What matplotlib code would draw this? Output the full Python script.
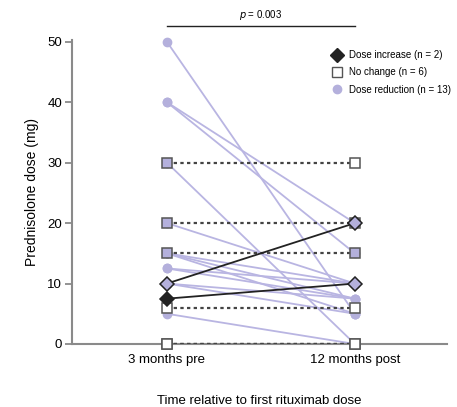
import matplotlib.pyplot as plt
from matplotlib.lines import Line2D

# time points
timepoints = ["3 months pre", "12 months post"]

# dose reduction patients (pre, post)
red_pre = [50, 40, 40, 30, 20, 15, 15, 15, 12.5, 12.5, 10, 10, 5]
red_post = [5, 20, 15, 0, 10, 7.5, 5, 10, 10, 7.5, 7.5, 5, 0]

# no change patients
same_pre = [30, 20, 15, 6, 0, 0]
same_post = [30, 20, 15, 6, 0, 0]

# dose increase patients
inc_pre = [10, 7.5]
inc_post = [20, 10]

purple = "#b4b0dc"
purple_line = "#b9b5e2"
dark = "#222222"
grey = "#8a8a8a"

plt.rcParams['font.family'] = ['Liberation Sans', 'DejaVu Sans']

fig = plt.figure(figsize=(4.57, 4.07), dpi=100)
ax = fig.add_axes([0.1575, 0.1548, 0.8206, 0.747])

red_pts = set(zip([0] * len(red_pre), red_pre)) | set(zip([1] * len(red_post), red_post))

def face(x, y, default):
    if y > 0 and (x, y) in red_pts:
        return purple
    return default

# lines
for a, b in zip(red_pre, red_post):
    ax.plot([0, 1], [a, b], color=purple_line, lw=1.3, zorder=2)
for a, b in zip(same_pre, same_post):
    ax.plot([0, 1], [a, b], color="#444444", lw=1.6, ls=(0, (1.5, 1.5)), zorder=3)
for a, b in zip(inc_pre, inc_post):
    ax.plot([0, 1], [a, b], color=dark, lw=1.3, zorder=4)

# markers
for a, b in zip(red_pre, red_post):
    ax.plot([0, 1], [a, b], ls="none", marker="o", ms=6, mfc=purple, mec=purple, zorder=5, clip_on=False)
for a, b in zip(same_pre, same_post):
    for x, y in ((0, a), (1, b)):
        ax.plot(x, y, ls="none", marker="s", ms=7, mfc=face(x, y, "white"), mec="#555555", mew=1.1,
                zorder=6, clip_on=False)
for a, b in zip(inc_pre, inc_post):
    for x, y in ((0, a), (1, b)):
        ax.plot(x, y, ls="none", marker="D", ms=7, mfc=face(x, y, dark), mec=dark, mew=1.1,
                zorder=7, clip_on=False)

ax.set_xlim(-0.505, 1.49)
ax.set_ylim(0, 50.3)
ax.set_yticks([0, 10, 20, 30, 40, 50])
ax.set_xticks([0, 1])
ax.set_xticklabels(timepoints, fontsize=9.5)
ax.tick_params(axis='x', length=0, pad=7)
ax.tick_params(axis='y', length=5, width=1.3, color=grey, labelsize=9.5, pad=2)
for s in ["top", "right"]:
    ax.spines[s].set_visible(False)
for s in ["left", "bottom"]:
    ax.spines[s].set_color(grey)
    ax.spines[s].set_linewidth(1.5)

ax.set_ylabel("Prednisolone dose (mg)", fontsize=10, labelpad=6)
ax.set_xlabel("Time relative to first rituximab dose", fontsize=9.5, labelpad=21)

# significance bar
ax.plot([0, 1], [52.6, 52.6], color=dark, lw=1.0, clip_on=False)
ax.text(0.5, 53.3, r"$\it{p}$ = 0.003", ha="center", va="bottom", fontsize=7)

handles = [
    Line2D([], [], ls="none", marker="D", ms=7, mfc=dark, mec=dark),
    Line2D([], [], ls="none", marker="s", ms=7, mfc="white", mec="#555555"),
    Line2D([], [], ls="none", marker="o", ms=6, mfc=purple, mec=purple),
]
labels = ["Dose increase (n = 2)", "No change (n = 6)", "Dose reduction (n = 13)"]
ax.legend(handles, labels, loc="upper left", bbox_to_anchor=(0.67, 0.98), frameon=False,
          fontsize=7, handletextpad=0.2, labelspacing=0.75, borderaxespad=0)

fig.savefig("out.png", dpi=100)
